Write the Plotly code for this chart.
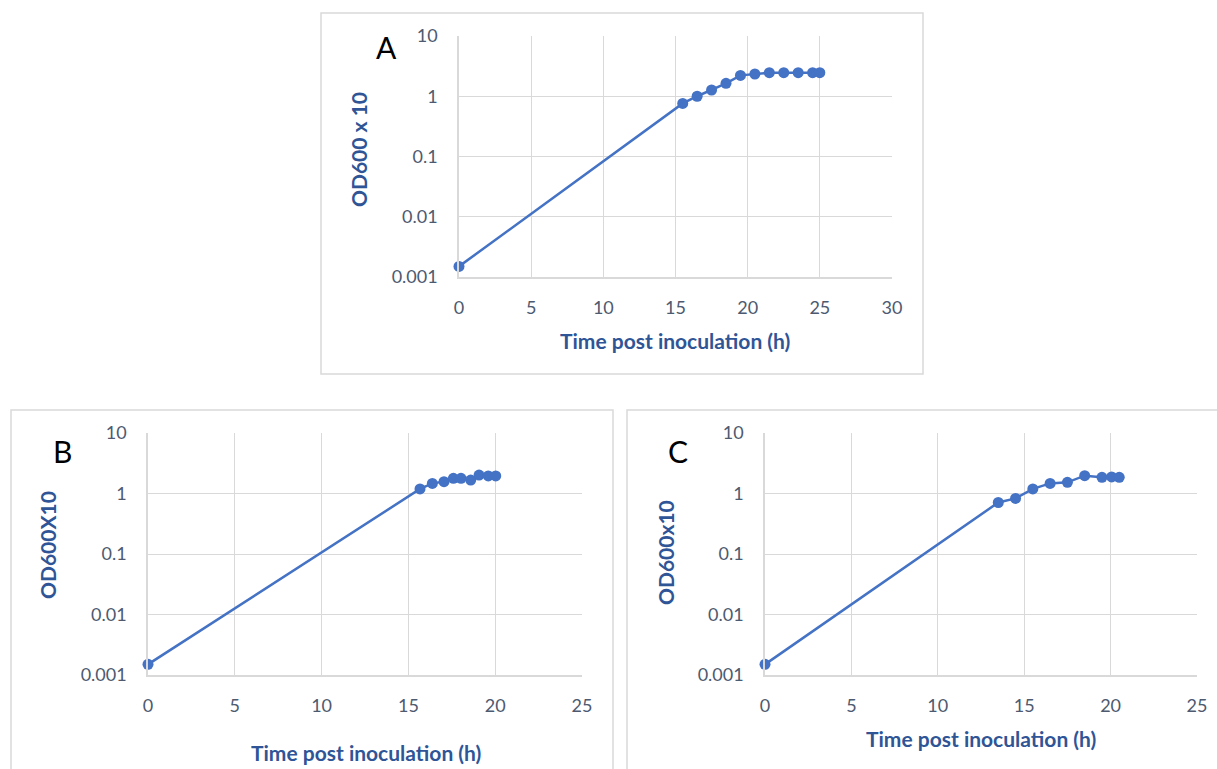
import plotly.graph_objects as go

# Panel A
a_time = [0, 15.5, 16.5, 17.5, 18.5, 19.5, 20.5, 21.5, 22.5, 23.5, 24.5, 25]
a_od = [0.0015, 0.76, 1.0, 1.27, 1.64, 2.22, 2.34, 2.46, 2.46, 2.46, 2.46, 2.46]
# Panel B
b_time = [0, 15.67, 16.38, 17.05, 17.59, 18.03, 18.59, 19.07, 19.6, 20.03]
b_od = [0.0015, 1.19, 1.47, 1.57, 1.78, 1.78, 1.67, 2.02, 1.95, 1.95]
# Panel C
c_time = [0, 13.5, 14.5, 15.5, 16.5, 17.5, 18.5, 19.5, 20.06, 20.5]
c_od = [0.0015, 0.71, 0.83, 1.19, 1.47, 1.53, 1.97, 1.85, 1.88, 1.85]

y_tickvals = [0.001, 0.01, 0.1, 1, 10]
y_ticktext = ["0.001", "0.01", "0.1", "1", "10"]
x_ticks_a = [0, 5, 10, 15, 20, 25, 30]
x_ticks_bc = [0, 5, 10, 15, 20, 25]

W, H = 1217, 769
BLUE = "#4472c4"
GRID = "#d9d9d9"
TICK = "#4d5a70"
TITLE = "#2f5597"
FONT = "Lato, 'Open Sans', sans-serif"

def fx(px):
    return px / W

def fy(py):
    return 1 - py / H

fig = go.Figure()
panels = [
    (a_time, a_od, "x", "y"),
    (b_time, b_od, "x2", "y2"),
    (c_time, c_od, "x3", "y3"),
]
for t, v, xa, ya in panels:
    fig.add_trace(go.Scatter(
        x=t, y=v, mode="lines+markers", xaxis=xa, yaxis=ya,
        line=dict(color=BLUE, width=2.5),
        marker=dict(color=BLUE, size=11),
        cliponaxis=False,
        showlegend=False, hoverinfo="x+y",
    ))

def xaxis(domain, rng, ticks):
    return dict(domain=domain, range=rng, tickvals=ticks, showgrid=True,
                gridcolor=GRID, gridwidth=1, zeroline=False, showline=True,
                linecolor=GRID, linewidth=1.5, mirror=False, automargin=False,
                tickfont=dict(family=FONT, size=18, color=TICK),
                ticks="", ticklabelstandoff=14, fixedrange=True)

def yaxis(domain, anchor):
    return dict(domain=domain, type="log", range=[-3, 1], tickvals=y_tickvals,
                ticktext=y_ticktext, showgrid=True, gridcolor=GRID, gridwidth=1,
                zeroline=False, showline=True, linecolor=GRID, linewidth=1.5,
                automargin=False,
                tickfont=dict(family=FONT, size=18, color=TICK),
                ticks="", ticklabelstandoff=16, anchor=anchor, fixedrange=True)

fig.update_layout(
    width=W, height=H,
    margin=dict(l=0, r=0, t=0, b=0, pad=0, autoexpand=False),
    paper_bgcolor="white", plot_bgcolor="white",
    xaxis=dict(xaxis([fx(459), fx(892)], [0, 30], x_ticks_a), anchor="y"),
    yaxis=yaxis([fy(277), fy(36)], "x"),
    xaxis2=dict(xaxis([fx(148), fx(582)], [0, 25], x_ticks_bc), anchor="y2"),
    yaxis2=yaxis([fy(675), fy(433)], "x2"),
    xaxis3=dict(xaxis([fx(765), fx(1197)], [0, 25], x_ticks_bc), anchor="y3"),
    yaxis3=yaxis([fy(675), fy(433)], "x3"),
)

# Panel frames
frames = [(321, 13, 923, 374), (11, 410, 613, 790), (627, 410, 1230, 790)]
for x0, y0, x1, y1 in frames:
    fig.add_shape(type="rect", xref="paper", yref="paper",
                  x0=fx(x0), x1=fx(x1), y0=fy(y1), y1=fy(y0),
                  line=dict(color=GRID, width=1.5), fillcolor="rgba(0,0,0,0)",
                  layer="below")

# Panel letters
for txt, px, py in [("A", 386, 47), ("B", 62, 451), ("C", 678, 451)]:
    fig.add_annotation(text=txt, x=fx(px), y=fy(py), xref="paper", yref="paper",
                       showarrow=False, font=dict(family=FONT, size=30, color="black"),
                       xanchor="center", yanchor="middle")

# Axis titles
xt = [(675, 340), (366, 752), (981, 738)]
for px, py in xt:
    fig.add_annotation(text="<b>Time post inoculation (h)</b>", x=fx(px), y=fy(py),
                       xref="paper", yref="paper", showarrow=False,
                       font=dict(family=FONT, size=21, color=TITLE),
                       xanchor="center", yanchor="middle")
yt = [("OD600 x 10", 358, 150), ("OD600X10", 47, 545), ("OD600x10", 665, 553)]
for txt, px, py in yt:
    fig.add_annotation(text="<b>" + txt + "</b>", x=fx(px), y=fy(py),
                       xref="paper", yref="paper", showarrow=False, textangle=-90,
                       font=dict(family=FONT, size=21, color=TITLE),
                       xanchor="center", yanchor="middle")

post = """
document.documentElement.style.margin='0';
document.body.style.margin='0';
document.body.style.overflow='hidden';
"""
fig.write_html("out.html", post_script=post, config={"displayModeBar": False})
